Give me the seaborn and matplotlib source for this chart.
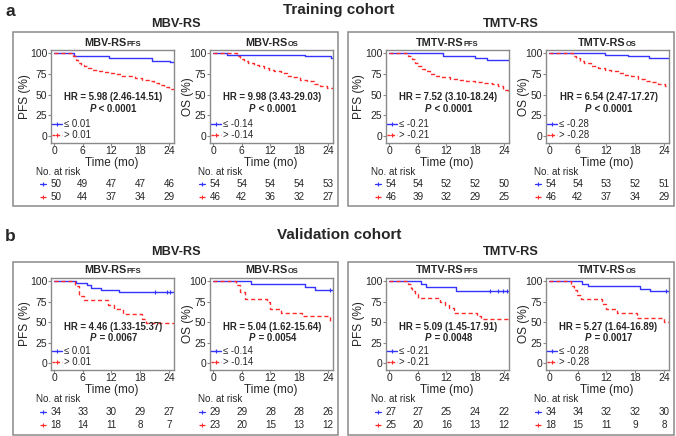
import matplotlib
matplotlib.use('Agg')
import numpy as np
import pandas as pd
import matplotlib.pyplot as plt
import seaborn as sns
import matplotlib.transforms as mtrans
from matplotlib.lines import Line2D
from matplotlib.patches import Rectangle
from matplotlib.offsetbox import TextArea, HPacker, AnnotationBbox

sns.set_style('white')
plt.rcParams['font.family'] = ['Liberation Sans', 'DejaVu Sans']

# ---------------- data ----------------
X_TICKS = [0, 6, 12, 18, 24]
Y_TICKS = [0, 25, 50, 75, 100]

# Training cohort
TR_MBV_PFS_LO_T = [0, 4.2, 11.5, 20.5, 24.2, 25]
TR_MBV_PFS_LO_S = [100, 97, 94, 91, 89, 89]
TR_MBV_PFS_HI_T = [0, 4.0, 4.5, 5.0, 5.6, 6.3, 7.0, 8.0, 9.0, 10.4, 11.5, 12.5, 13.9, 15.3, 17.0, 18.4, 19.8, 20.9, 22.0, 23.0, 24.0, 25]
TR_MBV_PFS_HI_S = [100, 96, 92, 88, 86, 84, 82, 80, 79, 77, 76, 75, 73, 72, 70, 68, 66, 64, 62, 59, 57, 57]

TR_MBV_OS_LO_T = [0, 3.0, 19.2, 24.6, 25]
TR_MBV_OS_LO_S = [100, 98, 96, 94, 94]
TR_MBV_OS_HI_T = [0, 5.0, 5.7, 6.4, 7.4, 8.5, 9.5, 10.6, 11.6, 12.7, 14.1, 15.4, 16.8, 18.2, 19.6, 21.0, 22.4, 23.8, 25]
TR_MBV_OS_HI_S = [100, 96, 93, 90, 88, 86, 84, 82, 80, 78, 76, 73, 71, 68, 66, 63, 60, 58, 58]

TR_TMTV_PFS_LO_T = [0, 11.3, 17.9, 20.5, 25]
TR_TMTV_PFS_LO_S = [100, 96, 94, 92, 92]
TR_TMTV_PFS_HI_T = [0, 4.0, 4.7, 5.4, 6.1, 6.8, 7.5, 8.5, 9.5, 10.9, 12.7, 14.4, 16.1, 17.9, 19.6, 21.4, 22.8, 23.8, 24.8, 25]
TR_TMTV_PFS_HI_S = [100, 97, 93, 88, 84, 81, 78, 75, 72, 71, 69, 67.5, 66, 65, 64, 63, 60, 56, 52, 52]

TR_TMTV_OS_LO_T = [0, 11.6, 16.5, 20.9, 25]
TR_TMTV_OS_LO_S = [100, 98, 96, 94, 94]
TR_TMTV_OS_HI_T = [0, 5.0, 5.7, 6.4, 7.4, 8.8, 10.2, 11.6, 13.0, 14.4, 15.8, 17.2, 18.6, 20.0, 21.4, 22.8, 24.2, 25]
TR_TMTV_OS_HI_S = [100, 97, 94, 90, 88, 85, 82, 80, 78, 76, 74, 72, 69, 67, 65, 63, 60, 60]

# Validation cohort
VA_MBV_PFS_LO_T = [0, 4.6, 6.8, 7.7, 9.8, 13.6, 25]
VA_MBV_PFS_LO_S = [100, 97.5, 95, 92, 89, 86.5, 86.5]
VA_MBV_PFS_LO_CENS = [21, 23.5, 24.3]
VA_MBV_PFS_HI_T = [0, 4.3, 5.3, 6.2, 11.2, 12.6, 14.3, 18.3, 19.2, 25]
VA_MBV_PFS_HI_S = [100, 94.5, 82, 77, 71.5, 66, 59.5, 54, 49, 49]

VA_MBV_OS_LO_T = [0, 8.0, 19.2, 21.2, 25]
VA_MBV_OS_LO_S = [100, 96.5, 93, 89.5, 89.5]
VA_MBV_OS_LO_CENS = [24.5]
VA_MBV_OS_HI_T = [0, 4.8, 5.6, 6.6, 11.2, 12.0, 14.2, 18.6, 24.4, 25]
VA_MBV_OS_HI_S = [100, 95.7, 87, 78.5, 74, 65.5, 61, 57, 52, 52]

VA_TMTV_PFS_LO_T = [0, 6.7, 7.7, 13.9, 25]
VA_TMTV_PFS_LO_S = [100, 96, 92.5, 88.5, 88.5]
VA_TMTV_PFS_LO_CENS = [21, 22.8, 23.8, 24.6]
VA_TMTV_PFS_HI_T = [0, 4.0, 4.5, 4.9, 5.4, 6.1, 10.6, 11.6, 12.6, 13.6, 18.4, 19.3, 25]
VA_TMTV_PFS_HI_S = [100, 96, 92, 88, 84, 79, 75, 71, 67, 61, 57, 53.5, 53.5]

VA_TMTV_OS_LO_T = [0, 6.9, 8.1, 19.0, 21.0, 25]
VA_TMTV_OS_LO_S = [100, 97, 94, 91, 88, 88]
VA_TMTV_OS_LO_CENS = [24.5]
VA_TMTV_OS_HI_T = [0, 4.6, 5.3, 5.9, 6.6, 11.0, 11.8, 14.2, 18.4, 24.0, 25]
VA_TMTV_OS_HI_S = [100, 94, 89, 83.5, 78, 72, 66.5, 61, 55.5, 50, 50]

# numbers at risk
RISK_TR_MBV_PFS = ([50, 49, 47, 47, 46], [50, 44, 37, 34, 29])
RISK_TR_MBV_OS = ([54, 54, 54, 54, 53], [46, 42, 36, 32, 27])
RISK_TR_TMTV_PFS = ([54, 54, 52, 52, 50], [46, 39, 32, 29, 25])
RISK_TR_TMTV_OS = ([54, 54, 53, 52, 51], [46, 42, 37, 34, 29])
RISK_VA_MBV_PFS = ([34, 33, 30, 29, 27], [18, 14, 11, 8, 7])
RISK_VA_MBV_OS = ([29, 29, 28, 28, 26], [23, 20, 15, 13, 12])
RISK_VA_TMTV_PFS = ([27, 27, 25, 24, 22], [25, 20, 16, 13, 12])
RISK_VA_TMTV_OS = ([34, 34, 32, 32, 30], [18, 15, 11, 9, 8])

HR_TEXTS = ['HR = 5.98 (2.46-14.51)', 'HR = 9.98 (3.43-29.03)', 'HR = 7.52 (3.10-18.24)', 'HR = 6.54 (2.47-17.27)',
            'HR = 4.46 (1.33-15.37)', 'HR = 5.04 (1.62-15.64)', 'HR = 5.09 (1.45-17.91)', 'HR = 5.27 (1.64-16.89)']
P_TEXTS = [' < 0.0001', ' < 0.0001', ' < 0.0001', ' < 0.0001', ' = 0.0067', ' = 0.0054', ' = 0.0048', ' = 0.0017']
CUTOFFS = ['0.01', '-0.14', '-0.21', '-0.28']
SCORES = ['MBV-RS', 'MBV-RS', 'TMTV-RS', 'TMTV-RS']
ENDPOINTS = ['PFS', 'OS', 'PFS', 'OS']
COHORTS = ['Training cohort', 'Validation cohort']
PANEL_LETTERS = ['a', 'b']

CURVES = [
    (TR_MBV_PFS_LO_T, TR_MBV_PFS_LO_S, TR_MBV_PFS_HI_T, TR_MBV_PFS_HI_S, [], RISK_TR_MBV_PFS),
    (TR_MBV_OS_LO_T, TR_MBV_OS_LO_S, TR_MBV_OS_HI_T, TR_MBV_OS_HI_S, [], RISK_TR_MBV_OS),
    (TR_TMTV_PFS_LO_T, TR_TMTV_PFS_LO_S, TR_TMTV_PFS_HI_T, TR_TMTV_PFS_HI_S, [], RISK_TR_TMTV_PFS),
    (TR_TMTV_OS_LO_T, TR_TMTV_OS_LO_S, TR_TMTV_OS_HI_T, TR_TMTV_OS_HI_S, [], RISK_TR_TMTV_OS),
    (VA_MBV_PFS_LO_T, VA_MBV_PFS_LO_S, VA_MBV_PFS_HI_T, VA_MBV_PFS_HI_S, VA_MBV_PFS_LO_CENS, RISK_VA_MBV_PFS),
    (VA_MBV_OS_LO_T, VA_MBV_OS_LO_S, VA_MBV_OS_HI_T, VA_MBV_OS_HI_S, VA_MBV_OS_LO_CENS, RISK_VA_MBV_OS),
    (VA_TMTV_PFS_LO_T, VA_TMTV_PFS_LO_S, VA_TMTV_PFS_HI_T, VA_TMTV_PFS_HI_S, VA_TMTV_PFS_LO_CENS, RISK_VA_TMTV_PFS),
    (VA_TMTV_OS_LO_T, VA_TMTV_OS_LO_S, VA_TMTV_OS_HI_T, VA_TMTV_OS_HI_S, VA_TMTV_OS_LO_CENS, RISK_VA_TMTV_OS),
]

# ---------------- style / layout ----------------
BLUE = '#3434ff'
RED = '#ff2b2b'
GREY = '#8a8a8a'
W, H = 676, 436

def fx(px):
    return px / W

def fy(py):
    return 1 - py / H

fig = plt.figure(figsize=(W / 100, H / 100), dpi=100)

ROWS = [
    dict(cohort_y=10, group_y=24, box_top=32, box_bot=206, title_y=43, ax_top=50, ax_bot=143,
         xlab_y=163, risk_head=172, risk_y=(184, 197), hr_y=97, p_y=108.5),
    dict(cohort_y=235, group_y=252, box_top=262, box_bot=435, title_y=270, ax_top=278, ax_bot=370,
         xlab_y=390, risk_head=399, risk_y=(412, 425), hr_y=327, p_y=338),
]
COL_LEFT = [51, 210, 386, 546]
AX_W = 123
YLAB_X = [25, 188, 359, 524]
BOXES = [(13, 338), (348, 674)]


def rich(x, y, parts, xycoords='figure fraction', align=(0.5, 0.5)):
    children = [TextArea(s, textprops=p) for s, p in parts]
    box = HPacker(children=children, align='baseline', pad=0, sep=0)
    ab = AnnotationBbox(box, (x, y), xycoords=xycoords, box_alignment=align,
                        frameon=False, pad=0, annotation_clip=False)
    fig.add_artist(ab)


for r, row in enumerate(ROWS):
    fig.text(fx(5), fy(row['cohort_y'] + 1), PANEL_LETTERS[r], fontsize=12.5, fontweight='bold',
             ha='left', va='center')
    fig.text(fx(339), fy(row['cohort_y']), COHORTS[r], fontsize=11, fontweight='bold',
             ha='center', va='center')
    for b, (x0, x1) in enumerate(BOXES):
        fig.add_artist(Rectangle((fx(x0), fy(row['box_bot'])), fx(x1) - fx(x0),
                                 fy(row['box_top']) - fy(row['box_bot']),
                                 transform=fig.transFigure, fill=False, edgecolor=GREY, lw=1.1))
        fig.text(fx((x0 + x1) / 2), fy(row['group_y']), SCORES[2 * b], fontsize=9.2,
                 fontweight='bold', ha='center', va='center')

    for c in range(4):
        k = r * 4 + c
        lo_t, lo_s, hi_t, hi_s, cens, risk = CURVES[k]
        left = COL_LEFT[c]
        ax = fig.add_axes([fx(left), fy(row['ax_bot']), AX_W / W,
                           (row['ax_bot'] - row['ax_top']) / H])
        lo_lab = '\u2264 ' + CUTOFFS[c]
        hi_lab = '> ' + CUTOFFS[c]
        df = pd.concat([
            pd.DataFrame({'time': lo_t, 'surv': lo_s, 'grp': lo_lab}),
            pd.DataFrame({'time': hi_t, 'surv': hi_s, 'grp': hi_lab}),
        ], ignore_index=True)
        sns.lineplot(data=df, x='time', y='surv', hue='grp', style='grp',
                     palette={lo_lab: BLUE, hi_lab: RED},
                     dashes={lo_lab: '', hi_lab: (3, 2)},
                     estimator=None, drawstyle='steps-post', lw=1.0, ax=ax, legend=False)
        if cens:
            y_c = [lo_s[-1]] * len(cens)
            ax.plot(cens, y_c, ls='none', marker='+', ms=3.5, mew=0.8, color=BLUE)

        ax.set_xlim(-0.63, 25.05)
        ax.set_ylim(-8.2, 103.8)
        ax.set_xticks(X_TICKS)
        ax.set_yticks(Y_TICKS)
        ax.tick_params(axis='both', which='major', length=2, width=0.8, color=GREY,
                       labelsize=7.5, pad=0.8, left=True, bottom=True)
        ax.tick_params(axis='x', pad=0.2)
        for sp in ax.spines.values():
            sp.set_color(GREY)
            sp.set_linewidth(1.0)
        ax.set_xlabel('')
        ax.set_ylabel('')

        cx = left + AX_W / 2
        # panel titles with small-cap style subscript
        rich(fx(cx), fy(row['title_y']),
             [(SCORES[c], dict(fontsize=7.8, fontweight='bold')),
              (ENDPOINTS[c], dict(fontsize=5.4, fontweight='bold'))])
        fig.text(fx(cx - 1), fy(row['xlab_y']), 'Time (mo)', fontsize=8.5, ha='center', va='center')
        fig.text(fx(YLAB_X[c]), fy((row['ax_top'] + row['ax_bot']) / 2), ENDPOINTS[c] + ' (%)',
                 fontsize=8.6, rotation=90, ha='center', va='center')

        # HR annotation
        fig.text(fx(cx + 1), fy(row['hr_y']), HR_TEXTS[k], fontsize=6.9, fontweight='bold',
                 ha='center', va='center')
        rich(fx(cx + 1), fy(row['p_y']),
             [('P', dict(fontsize=6.9, fontweight='bold', fontstyle='italic')),
              (P_TEXTS[k], dict(fontsize=6.9, fontweight='bold'))])

        # legend
        handles = [Line2D([], [], color=BLUE, lw=1.0, marker='+', ms=3, mew=0.8),
                   Line2D([], [], color=RED, lw=1.0, ls=(0, (2, 1.5)), marker='+', ms=3, mew=0.8)]
        ax.legend(handles, [lo_lab, hi_lab], loc='lower left', bbox_to_anchor=(0.0, 0.02),
                  frameon=False, fontsize=6.9, handlelength=1.0, handletextpad=0.3,
                  borderpad=0.1, borderaxespad=0.0, labelspacing=0.12)

        # risk table
        head_x = left - (15 if c % 2 == 0 else 12)
        fig.text(fx(head_x), fy(row['risk_head']), 'No. at risk', fontsize=7.1, ha='left', va='center')
        tr = mtrans.blended_transform_factory(ax.transData, fig.transFigure)
        for vals, col, ls, yy in [(risk[0], BLUE, '-', row['risk_y'][0]),
                                  (risk[1], RED, (0, (2, 1.5)), row['risk_y'][1])]:
            ax.plot([-3.0, -1.6], [fy(yy), fy(yy)], transform=tr, clip_on=False, color=col,
                    lw=0.9, ls=ls)
            ax.plot([-2.3], [fy(yy)], transform=tr, clip_on=False, color=col, marker='+',
                    ms=3, mew=0.8)
            for j, (t, v) in enumerate(zip(X_TICKS, vals)):
                tx = t + 0.4 if j == 0 else t
                ax.text(tx, fy(yy), str(v), transform=tr, fontsize=7.1, ha='center', va='center')

fig.savefig('out.png', dpi=100)
